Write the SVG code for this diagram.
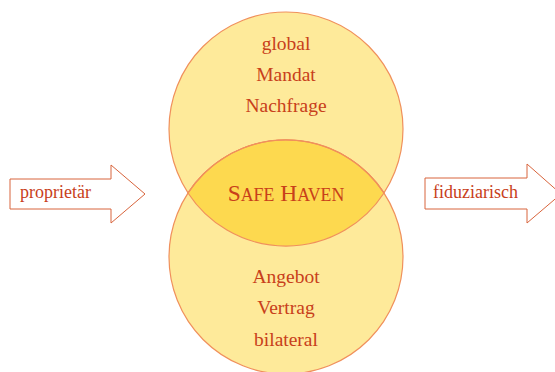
<svg xmlns="http://www.w3.org/2000/svg" width="555" height="372" viewBox="0 0 555 372">
<style>
.t{font-family:"Liberation Serif","Times New Roman",serif;fill:#C8401A;text-anchor:middle;font-size:19.5px}
.a{fill:#ffffff;stroke:#D8643C;stroke-width:1}
.al{font-family:"Liberation Serif","Times New Roman",serif;fill:#C8401A;font-size:18px}
.c{fill:#FEEA9A;stroke:#F0905C;stroke-width:1.2}
</style>
<defs>
<clipPath id="clipTop"><circle cx="286" cy="129" r="117"/></clipPath>
</defs>
<g id="circle-top"><circle class="c" cx="286" cy="129" r="117"/></g>
<g id="circle-bottom"><circle class="c" cx="286" cy="257" r="117"/></g>
<g id="intersection">
<circle cx="286" cy="257" r="117" fill="#FDD94F" stroke="#F0905C" stroke-width="1.2" clip-path="url(#clipTop)"/>
<path d="M188 193 A117 117 0 0 1 384 193" fill="none" stroke="#F0905C" stroke-width="1.2"/>
<path d="M188 193 A117 117 0 0 0 384 193" fill="none" stroke="#F0905C" stroke-width="1.2"/>
<text class="t" x="286" y="201" style="font-size:23.5px">S<tspan style="font-size:17.8px">AFE</tspan> H<tspan style="font-size:17.8px">AVEN</tspan></text>
</g>
<g id="top-labels">
<text class="t" x="286" y="50">global</text>
<text class="t" x="286" y="81">Mandat</text>
<text class="t" x="286" y="112">Nachfrage</text>
</g>
<g id="bottom-labels">
<text class="t" x="286" y="283">Angebot</text>
<text class="t" x="286" y="314">Vertrag</text>
<text class="t" x="286" y="346">bilateral</text>
</g>
<g id="arrow-left">
<path class="a" d="M10 179 H111 V165 L145 194 L111 223 V209 H10 Z"/>
<text class="al" x="20" y="198">proprietär</text>
</g>
<g id="arrow-right">
<path class="a" d="M425 178 H527 V164 L561 194 L527 223 V209 H425 Z"/>
<text class="al" x="433" y="198">fiduziarisch</text>
</g>
</svg>
